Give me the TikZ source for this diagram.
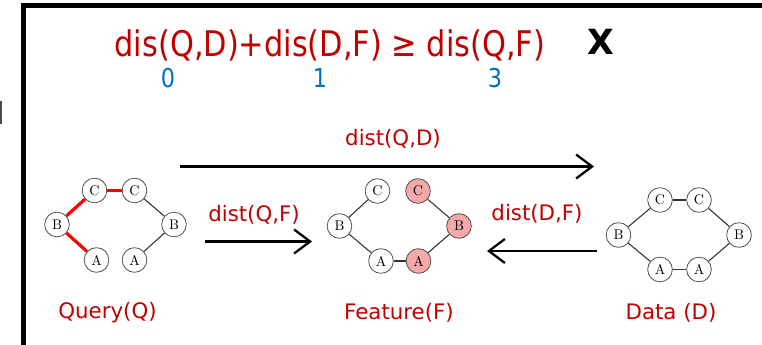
\documentclass[tikz,border=0pt]{standalone}
\usepackage{fontspec}
\newfontfamily\dvsans{DejaVu Sans}
\newfontfamily\dvnarrow[FakeStretch=0.86]{DejaVu Sans}
\usetikzlibrary{arrows.meta}
\definecolor{txtred}{HTML}{C00000}
\definecolor{numblue}{HTML}{0070C0}
\definecolor{hitfill}{HTML}{F5A8A8}
\definecolor{ringgray}{HTML}{505050}
\tikzset{
  gnode/.style={circle,draw=ringgray,line width=0.6pt,fill=white,minimum size=18.5pt,inner sep=0pt,font=\fontsize{10.5}{12}\selectfont},
  hitnode/.style={gnode,fill=hitfill},
  gedge/.style={draw=black!80,line width=0.8pt},
  redge/.style={draw=red,line width=2.4pt},
  lbl/.style={text=txtred,font=\dvsans\fontsize{16}{19}\selectfont,inner sep=0pt},
  num/.style={text=numblue,font=\dvnarrow\fontsize{19.5}{22}\selectfont,inner sep=0pt},
  bigarrow/.style={line width=1.7pt,-{Straight Barb[length=12pt,width=18pt,line width=1.7pt]}}
}
\begin{document}
\begin{tikzpicture}[x=0.75pt,y=-0.75pt]
\useasboundingbox (0,0) rectangle (762,345);
% frame
\draw[line width=3.6pt] (23.5,345) -- (23.5,5.2) -- (762,5.2);
\draw[black!70,line width=1.3pt] (0.8,101) -- (0.8,124);
% formula
\node[lbl,font=\dvnarrow\fontsize{26.5}{30}\selectfont] (eq) at (330,45) {dis(Q,D)+dis(D,F) ≥ dis(Q,F)};
\node[font=\dvsans\bfseries\fontsize{26}{30}\selectfont,inner sep=0pt] (cross) at (601,42) {X};
\node[num] (n0) at (168,78) {0};
\node[num] (n1) at (320,78) {1};
\node[num] (n3) at (495,78) {3};
% query graph
\node[gnode] (qc1) at (94.5,190.5) {C};
\node[gnode] (qc2) at (134.5,190.5) {C};
\node[gnode] (qb1) at (57,224.5) {B};
\node[gnode] (qb2) at (174,224.5) {B};
\node[gnode] (qa1) at (96.5,260) {A};
\node[gnode] (qa2) at (134.5,260) {A};
\draw[redge] (qb1) -- (qc1);
\draw[redge] (qc1) -- (qc2);
\draw[redge] (qb1) -- (qa1);
\draw[gedge] (qc2) -- (qb2);
\draw[gedge] (qb2) -- (qa2);
% feature graph
\node[gnode] (fc1) at (377.5,191) {C};
\node[hitnode] (fc2) at (418,191) {C};
\node[gnode] (fb1) at (339.5,226) {B};
\node[hitnode] (fb2) at (459,226) {B};
\node[gnode] (fa1) at (381,261) {A};
\node[hitnode] (fa2) at (418.5,261) {A};
\draw[gedge] (fc1) -- (fb1);
\draw[gedge] (fb1) -- (fa1);
\draw[gedge] (fa1) -- (fa2);
\draw[gedge] (fa2) -- (fb2);
\draw[gedge] (fb2) -- (fc2);
% data graph
\node[gnode] (dc1) at (660,200) {C};
\node[gnode] (dc2) at (699,200) {C};
\node[gnode] (db1) at (618.5,235) {B};
\node[gnode] (db2) at (739,235) {B};
\node[gnode] (da1) at (660,269.5) {A};
\node[gnode] (da2) at (699,269.5) {A};
\draw[gedge] (dc1) -- (dc2);
\draw[gedge] (dc1) -- (db1);
\draw[gedge] (db1) -- (da1);
\draw[gedge] (da1) -- (da2);
\draw[gedge] (da2) -- (db2);
\draw[gedge] (db2) -- (dc2);
% distance arrows
\coordinate (qdS) at (180,166.5);
\coordinate (qdE) at (594,166.5);
\coordinate (qfS) at (205,241.5);
\coordinate (qfE) at (312,241.5);
\coordinate (dfS) at (597,251);
\coordinate (dfE) at (487,251);
\draw[bigarrow] (qdS) -- (qdE);
\draw[bigarrow] (qfS) -- (qfE);
\draw[bigarrow] (dfS) -- (dfE);
\node[lbl] (lqd) at (393,139) {dist(Q,D)};
\node[lbl] (lqf) at (254,214.5) {dist(Q,F)};
\node[lbl] (ldf) at (537,213.5) {dist(D,F)};
% graph captions
\node[lbl] (capq) at (107.5,313) {Query(Q)};
\node[lbl] (capf) at (399,313) {Feature(F)};
\node[lbl] (capd) at (671,313) {Data (D)};
\end{tikzpicture}
\end{document}
